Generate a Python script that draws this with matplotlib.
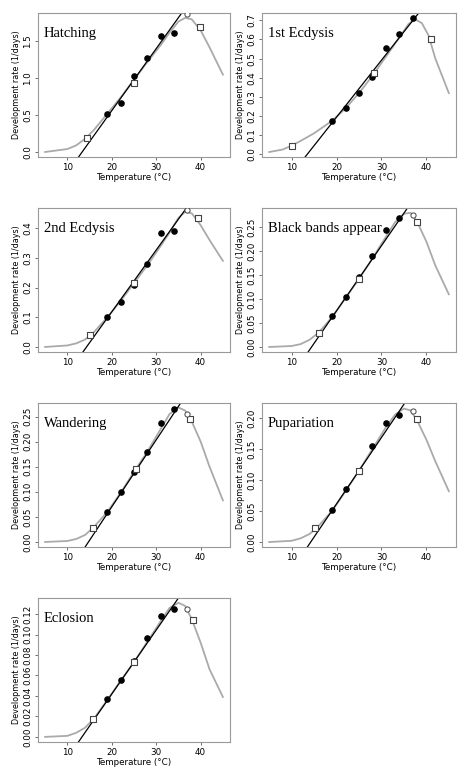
import matplotlib
matplotlib.use("Agg")
import matplotlib.pyplot as plt
import numpy as np

titles = ["Hatching", "1st Ecdysis", "2nd Ecdysis", "Black bands appear", "Wandering", "Pupariation", "Eclosion"]
filled_x = [[19,22,25,28,31,34],[19,22,25,28,31,34,37],[19,22,25,28,31,34],[19,22,25,28,31,34],
            [19,22,25,28,31,34],[19,22,25,28,31,34],[19,22,25,28,31,34]]
filled_y = [[0.52,0.67,1.03,1.27,1.57,1.62],[0.175,0.24,0.32,0.405,0.555,0.63,0.71],
            [0.102,0.152,0.21,0.278,0.385,0.39],[0.065,0.105,0.145,0.19,0.245,0.27],
            [0.06,0.10,0.14,0.18,0.238,0.265],[0.052,0.086,0.115,0.155,0.192,0.205],
            [0.037,0.056,0.074,0.097,0.118,0.125]]
square_x = [[14.5,25,39.8],[10,28.3,41],[15,25,39.5],[16,25,38],[15.8,25.5,37.5],[15.2,25,38],[15.8,25,38.2]]
square_y = [[0.19,0.94,1.69],[0.045,0.425,0.60],[0.04,0.215,0.435],[0.03,0.142,0.26],
            [0.027,0.145,0.245],[0.022,0.115,0.198],[0.017,0.073,0.114]]
open_x = [[37],[],[37],[37],[37],[37],[37]]
open_y = [[1.87],[],[0.46],[0.275],[0.255],[0.211],[0.125]]
line_x = [[12.5,36.5],[13,38.3],[13.5,36.8],[13.7,35.8],[14,35.5],[13.5,35.2],[12.5,35]]
line_y = [[-0.07,1.95],[-0.014,0.738],[-0.017,0.468],[-0.01,0.29],[-0.01,0.277],[-0.008,0.224],[-0.005,0.1357]]
curve_x_std = [5,10,12,14,16,19,22,25,28,31,33,35,36.5,38,40,42,45]
curve_y = [
 [0.0,0.04,0.09,0.18,0.30,0.52,0.74,0.98,1.22,1.45,1.62,1.77,1.82,1.80,1.65,1.42,1.05],
 None,
 [0.0,0.005,0.012,0.025,0.05,0.10,0.155,0.215,0.275,0.34,0.385,0.435,0.455,0.45,0.41,0.36,0.29],
 [0.0,0.002,0.006,0.015,0.03,0.062,0.102,0.142,0.185,0.23,0.26,0.278,0.28,0.26,0.22,0.17,0.11],
 [0.0,0.002,0.006,0.014,0.03,0.06,0.098,0.14,0.18,0.225,0.255,0.268,0.262,0.24,0.20,0.15,0.083],
 [0.0,0.002,0.006,0.013,0.026,0.05,0.082,0.115,0.15,0.185,0.205,0.215,0.212,0.195,0.165,0.13,0.082],
 [0.0,0.001,0.004,0.009,0.018,0.036,0.055,0.073,0.093,0.113,0.126,0.131,0.128,0.115,0.092,0.066,0.039]]
curve1_x = [5,8,10,12,15,19,22,25,28,31,34,36,37.5,39,40.5,42,44,45]
curve1_y = [0.012,0.025,0.045,0.07,0.11,0.175,0.24,0.32,0.41,0.51,0.61,0.68,0.705,0.685,0.62,0.5,0.38,0.32]
ylims = [(-0.068,1.886),(-0.014,0.738),(-0.017,0.468),(-0.0105,0.29),(-0.01,0.277),(-0.008,0.224),(-0.005,0.1357)]
yticks = [[0,0.5,1.0,1.5],[0,0.1,0.2,0.3,0.4,0.5,0.6,0.7],[0,0.1,0.2,0.3,0.4],
          [0,0.05,0.10,0.15,0.20,0.25],[0,0.05,0.10,0.15,0.20,0.25],[0,0.05,0.10,0.15,0.20],
          [0,0.02,0.04,0.06,0.08,0.10,0.12]]
yfmt = ["%.1f","%.1f","%.1f","%.2f","%.2f","%.2f","%.2f"]

W, H = 474, 771
fig = plt.figure(figsize=(W/100, H/100), dpi=100)
cols = [(38,230),(262,456)]
rows = [(13,157),(208,352),(403,547),(598,742)]
for i in range(7):
    r, c = divmod(i, 2)
    x0, x1 = cols[c]; y0, y1 = rows[r]
    ax = fig.add_axes([x0/W, 1-y1/H, (x1-x0)/W, (y1-y0)/H])
    cx, cy = (curve1_x, curve1_y) if i == 1 else (curve_x_std, curve_y[i])
    ax.plot(cx, cy, color="#aaaaaa", lw=1.3, zorder=1)
    ax.plot(line_x[i], line_y[i], color="black", lw=0.9, zorder=2)
    ax.scatter(filled_x[i], filled_y[i], s=14, color="black", zorder=3)
    ax.scatter(square_x[i], square_y[i], s=22, marker="s", facecolor="white", edgecolor="#444444", lw=0.8, zorder=3)
    if open_x[i]:
        ax.scatter(open_x[i], open_y[i], s=14, facecolor="white", edgecolor="#444444", lw=0.7, zorder=3)
    ax.set_xlim(3.4, 46.6)
    ax.set_ylim(*ylims[i])
    ax.set_xticks([10,20,30,40])
    ax.set_yticks(yticks[i])
    ax.set_yticklabels([yfmt[i] % v for v in yticks[i]], rotation=90, va="center")
    ax.tick_params(labelsize=6.3, length=2.5, width=0.6, color="#555555", pad=1.5)
    for s in ax.spines.values():
        s.set_color("#999999"); s.set_linewidth(0.8)
    ax.set_xlabel("Temperature (°C)", fontsize=6.3, labelpad=1)
    ax.set_ylabel("Development rate (1/days)", fontsize=5.8, labelpad=2)
    ax.text(0.03, 0.9, titles[i], transform=ax.transAxes, fontsize=10.5,
            family="Liberation Serif", va="top", ha="left")
fig.savefig("out.png", dpi=100)
